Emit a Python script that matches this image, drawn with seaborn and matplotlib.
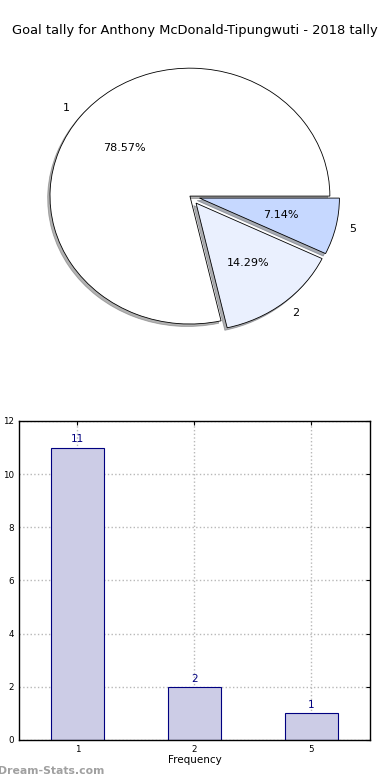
import numpy as np
import pandas as pd
import seaborn as sns
from matplotlib import pyplot as plt

# goals per game -> number of games
goal_cats = ['1', '2', '5']
game_counts = [11, 2, 1]
pie_colors = ['#ffffff', '#eaf0fe', '#c6d8ff']
explode = [0, 0.07, 0.07]

sns.set_style("white")
plt.rcParams['font.family'] = ['DejaVu Sans']
plt.rcParams['text.color'] = 'black'
plt.rcParams['axes.labelcolor'] = 'black'
plt.rcParams['xtick.color'] = 'black'
plt.rcParams['ytick.color'] = 'black'

fig = plt.figure(figsize=(3.9, 7.8), dpi=100)

# pie chart on top
ax1 = fig.add_axes([0.0385, 0.5436, 0.897, 0.41])
ax1.pie(game_counts, labels=goal_cats, colors=pie_colors, explode=explode,
        autopct='%1.2f%%', shadow={'ox': -0.012, 'oy': -0.014, 'shade': 0.6},
        wedgeprops={'edgecolor': 'black', 'linewidth': 0.6},
        textprops={'fontsize': 8})
ax1.set_aspect('auto')
ax1.set_xlim(-1.25, 1.25)
ax1.set_ylim(-1.25, 1.25)
fig.text(0.5, 0.961, 'Goal tally for Anthony McDonald-Tipungwuti - 2018 tally',
         ha='center', va='center', fontsize=9.4)

# bar chart below
ax2 = fig.add_axes([0.0487, 0.0513, 0.9, 0.409])
df = pd.DataFrame({'goals': goal_cats, 'games': game_counts})
sns.barplot(data=df, x='goals', y='games', ax=ax2, width=0.45,
            color=(0.8, 0.8, 0.9), edgecolor='navy', linewidth=0.8,
            saturation=1, zorder=2)
for i, v in enumerate(game_counts):
    ax2.text(i, v + 0.12, str(v), ha='center', va='bottom', color='navy', fontsize=7.5)
ax2.set_xlim(-0.5, 2.5)
ax2.set_ylim(0, 12)
ax2.set_yticks(range(0, 13, 2))
ax2.grid(True, linestyle=':', color='#b8b8b8', linewidth=1, zorder=0)
ax2.set_axisbelow(True)
ax2.tick_params(labelsize=6.3, direction='in', top=True, right=True, length=3)
ax2.set_xlabel('Frequency', fontsize=7.5, labelpad=1)
ax2.set_ylabel('Goal Tally Count', fontsize=7.5, labelpad=4)
for s in ax2.spines.values():
    s.set_color('black')
    s.set_linewidth(1)

fig.text(-0.005, 0.012, 'Dream-Stats.com', color='#a0a0a0', fontsize=7.8,
         fontweight='bold', ha='left', va='center')

fig.savefig('out.png', dpi=100)
